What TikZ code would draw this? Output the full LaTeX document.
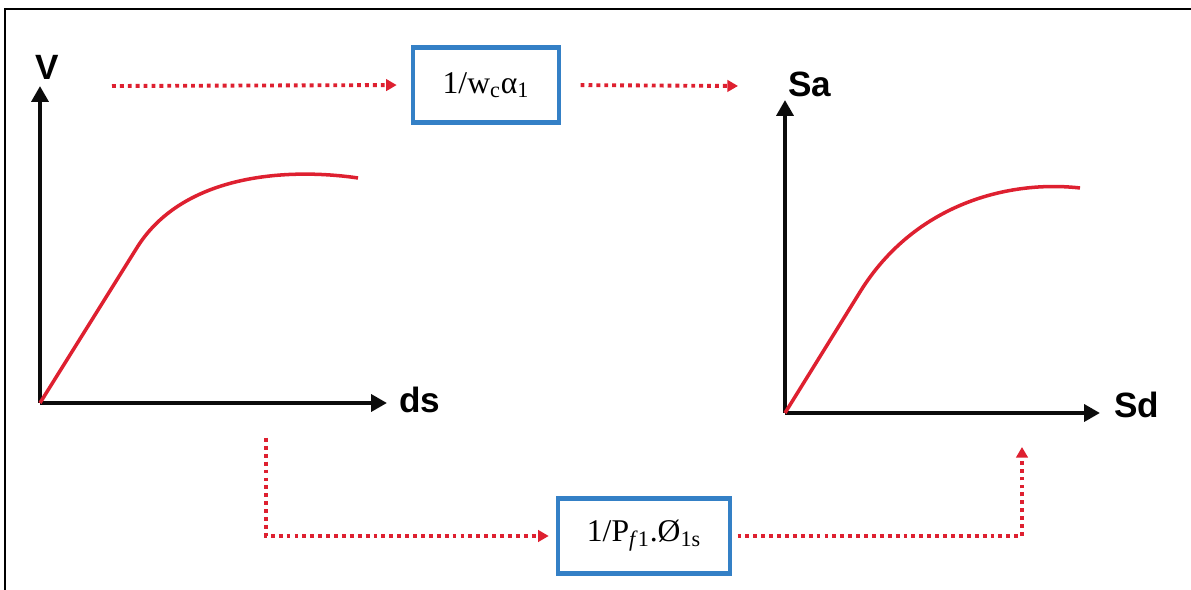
\documentclass[tikz,border=0pt]{standalone}
\usepackage{fontspec}
\setmainfont{Liberation Serif}
\setsansfont{Liberation Sans}
\usetikzlibrary{arrows.meta,positioning,calc}
\definecolor{convRed}{RGB}{222,32,48}
\definecolor{convBlue}{RGB}{52,128,198}
\definecolor{convBlack}{RGB}{12,12,12}

\begin{document}
\begin{tikzpicture}[
    x=0.02cm, y=-0.02cm,
    every node/.style={font=\sffamily\bfseries\fontsize{20}{24}\selectfont},
    axisline/.style={draw=convBlack, line width=2.6pt, -{Triangle[length=9pt,width=9.5pt]}},
    capcurve/.style={draw=convRed, line width=2pt},
    flow/.style={draw=convRed, line width=2.2pt, dash pattern=on 2.2pt off 2.3pt, -{Triangle[length=6pt,width=6.5pt]}},
    factor/.style={draw=convBlue, line width=2.6pt, inner sep=0pt, font=\rmfamily\fontsize{18}{22}\selectfont}
]
\useasboundingbox (0,0) rectangle (1191,590);
\draw[line width=1.5pt] (5,590) -- (5,9) -- (1191,9);

% pushover curve V-ds
\coordinate (o1) at (40,403);
\coordinate (y1) at (40,86);
\coordinate (x1) at (387,403);
\node (lv) at (47,67) {V};
\node (lds) at (420,400) {ds};
\draw[axisline] (o1) -- (y1);
\draw[axisline] (o1) -- (x1);
\draw[capcurve] (o1) -- (138,246) .. controls (185,173) and (290,168) .. (358,178);

% capacity spectrum Sa-Sd
\coordinate (o2) at (785,413);
\coordinate (y2) at (785,100);
\coordinate (x2) at (1100,413);
\node (lsa) at (810,84) {Sa};
\node (lsd) at (1137,405) {Sd};
\draw[axisline] (o2) -- (y2);
\draw[axisline] (o2) -- (x2);
\draw[capcurve] (o2) -- (860,292) .. controls (915,203) and (1010,180) .. (1080,188);

% conversion factors
\node[factor, minimum width=2.92cm, minimum height=1.5cm] (fa) at (486,85) {1/w\textsubscript{c}α\textsubscript{1}};
\node[factor, minimum width=3.44cm, minimum height=1.5cm] (fd) at (644,536) {1/P\textsubscript{\textit{f}1}.Ø\textsubscript{1s}};

\coordinate (ta) at (112,86);
\coordinate (tb) at (738,86);
\coordinate (ba) at (266,438);
\coordinate (bb) at (1022,447);
\draw[flow, shorten >=8pt] (ta) -- (fa.west);
\draw[flow, shorten <=11pt] (fa.east) -- (tb);
\draw[flow, shorten >=4pt] (ba) |- (fd.west);
\draw[flow, shorten <=3pt] (fd.east) -| (bb);
\end{tikzpicture}
\end{document}
